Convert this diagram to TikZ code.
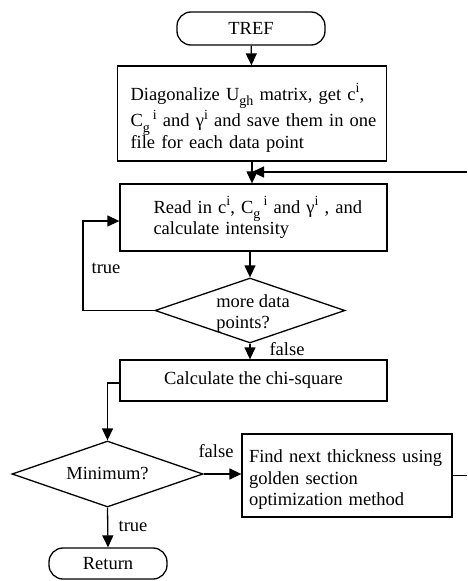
\documentclass[tikz,border=0pt]{standalone}
\usepackage{fontspec}
\setmainfont{Liberation Serif}
\usetikzlibrary{shapes.geometric,arrows.meta}

% index marks a little larger than the default \textsuperscript/\textsubscript
\newcommand\upidx[1]{\raisebox{0.42em}{\fontsize{14}{14}\selectfont #1}}
\newcommand\dnidx[1]{\raisebox{-0.28em}{\fontsize{14}{14}\selectfont #1}}

\begin{document}
\begin{tikzpicture}[x=1pt,y=-1pt,line width=1.3pt,
  every node/.style={font=\fontsize{18.5}{21.5}\selectfont},
  procbox/.style={draw, rectangle, inner ysep=0pt},
  termbox/.style={draw, rectangle, rounded corners=14pt, inner sep=0pt},
  decision/.style={draw, diamond, inner sep=0pt},
  arr/.style={-{Triangle[length=12pt,width=11pt]}},
  edgelbl/.style={inner sep=0pt}]
\useasboundingbox (0,0) rectangle (467,581);
\fill[white] (0,0) rectangle (467,581);

% terminals
\node[termbox, minimum width=148, minimum height=33] (tref) at (251,28.5) {TREF};
\node[termbox, minimum width=118, minimum height=31] (ret) at (108,563.5) {Return};

% process boxes (each line kept in one \mbox so it never wraps)
\node[procbox, text width=243, inner xsep=13, minimum height=95, align=left] (diag) at (252,113.5)
  {\rule{0pt}{26pt}\mbox{Diagonalize U\dnidx{gh} matrix, get c\upidx{i},}\\
   \mbox{C\dnidx{g}\,\upidx{i} and γ\upidx{i} and save them in one}\\
   \mbox{file for each data point}};
\node[procbox, text width=200, inner xsep=33.5, minimum height=67, align=left] (read) at (253.5,217.5)
  {\mbox{Read in c\upidx{i}, C\dnidx{g}\,\upidx{i} and γ\upidx{i} , and}\\
   \mbox{calculate intensity}};
\node[procbox, minimum width=267, minimum height=41] (chi) at (253.5,380.5) {Calculate the chi-square};
\node[procbox, text width=196, inner xsep=7, minimum height=83, align=left] (find) at (347,475.5)
  {\rule{0pt}{21pt}\mbox{Find next thickness using}\\ golden section\\ optimization method};

% decisions
\node[decision, minimum width=190, minimum height=65,
  label={[align=left, xshift=3pt, yshift=-3pt]center:more data\\points?}] (more) at (250,310.5) {};
\node[decision, minimum width=191, minimum height=66,
  label={center:Minimum?}] (mini) at (107.5,474) {};

% connectors
\draw[arr] (tref) -- (diag);
\draw[arr] (diag.south) -- (diag.south |- read.north);
\coordinate (fbin) at (467,172);
\draw[arr] (fbin) -- (fbin -| diag.south);
\draw[arr] (more.north |- read.south) -- (more.north);
\coordinate (loopc) at (83,221);
\draw[arr] (more.west) -| (loopc) -- (loopc -| read.west);
\draw[arr] (more.south) -- (more.south |- chi.north);
\coordinate (chiout) at (120,383);
\draw[arr] (chiout) -| (mini.north);
\draw[arr] (mini.east) -- (mini.east -| find.west);
\coordinate (fbout) at (467,475.5);
\draw (find.east |- fbout) -- (fbout);
\draw[arr] (mini.south) -- (ret.north);

% branch labels
\node[edgelbl] at (106,268) {true};
\node[edgelbl] at (287,349) {false};
\node[edgelbl] at (216,451) {false};
\node[edgelbl] at (133,526) {true};
\end{tikzpicture}
\end{document}
